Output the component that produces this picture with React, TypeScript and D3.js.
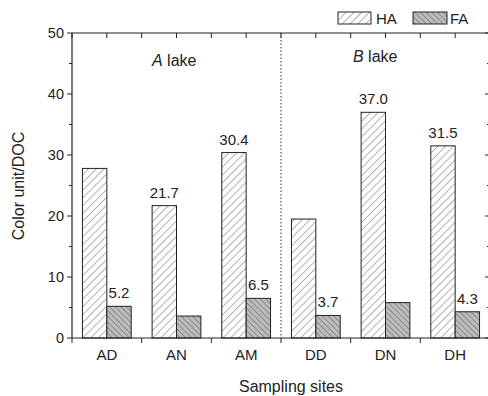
import React from "react";
import * as d3 from "d3";

const categories = ["AD", "AN", "AM", "DD", "DN", "DH"];
const haValues = [27.8, 21.7, 30.4, 19.5, 37.0, 31.5];
const faValues = [5.2, 3.6, 6.5, 3.7, 5.8, 4.3];
const haLabels = ["", "21.7", "30.4", "", "37.0", "31.5"];
const faLabels = ["5.2", "", "6.5", "3.7", "", "4.3"];
const yTicks = [0, 10, 20, 30, 40, 50];
const yMinorTicks = [5, 15, 25, 35, 45];

const W = 488, H = 396;
const left = 72, right = 490, top = 33, bottom = 338;
const font = "Liberation Sans, Arial, sans-serif";

export default function App() {
  const x = d3.scaleBand<string>().domain(categories).range([left, right]).paddingInner(0).paddingOuter(0);
  const y = d3.scaleLinear().domain([0, 50]).range([bottom, top]);
  const bw = x.bandwidth();
  const barW = bw * 0.35;
  const halfTicks = d3.range(0, categories.length * 2 + 1).map((i) => left + (i * bw) / 2);
  const boundaries = d3.range(0, categories.length + 1).map((i) => left + i * bw);
  const divider = x("DD")!;

  return (
    <svg width={W} height={H} style={{ position: "absolute", left: 0, top: 0, background: "#fff" }} fontFamily={font}>
      <defs>
        <pattern id="haPat" patternUnits="userSpaceOnUse" width={5.5} height={5.5} patternTransform="rotate(45)">
          <rect width={5.5} height={5.5} fill="#fff" />
          <line x1={0} y1={0} x2={0} y2={5.5} stroke="#555" strokeWidth={0.9} />
        </pattern>
        <pattern id="faPat" patternUnits="userSpaceOnUse" width={4} height={4} patternTransform="rotate(-45)">
          <rect width={4} height={4} fill="#bdbdbd" />
          <line x1={0} y1={0} x2={0} y2={4} stroke="#444" strokeWidth={0.9} />
        </pattern>
      </defs>

      {/* bars */}
      {categories.map((c, i) => {
        const cx = x(c)! + bw / 2;
        return (
          <g key={c}>
            <rect x={cx - barW} y={y(haValues[i])} width={barW} height={y(0) - y(haValues[i])} fill="url(#haPat)" stroke="#222" strokeWidth={1} />
            <rect x={cx} y={y(faValues[i])} width={barW} height={y(0) - y(faValues[i])} fill="url(#faPat)" stroke="#222" strokeWidth={1} />
            {haLabels[i] && (
              <text x={cx - barW / 2} y={y(haValues[i]) - 8} textAnchor="middle" fontSize={15} fill="#222">{haLabels[i]}</text>
            )}
            {faLabels[i] && (
              <text x={cx + barW / 2} y={y(faValues[i]) - 8} textAnchor="middle" fontSize={15} fill="#222">{faLabels[i]}</text>
            )}
            <text x={cx} y={bottom + 22} textAnchor="middle" fontSize={15} fill="#222">{c}</text>
          </g>
        );
      })}

      {/* divider */}
      <line x1={divider} x2={divider} y1={top} y2={bottom} stroke="#333" strokeWidth={1} strokeDasharray="1.5,2" />

      {/* frame */}
      <line x1={left} x2={right} y1={top} y2={top} stroke="#222" strokeWidth={1.2} />
      <line x1={left} x2={right} y1={bottom} y2={bottom} stroke="#222" strokeWidth={1.2} />
      <line x1={left} x2={left} y1={top} y2={bottom} stroke="#222" strokeWidth={1.2} />
      <line x1={right} x2={right} y1={top} y2={bottom} stroke="#222" strokeWidth={1.2} />

      {/* top ticks */}
      {halfTicks.map((t, i) => (
        <line key={"tt" + i} x1={t} x2={t} y1={top} y2={top + 5} stroke="#222" strokeWidth={1} />
      ))}
      {/* bottom ticks */}
      {boundaries.map((t, i) => (
        <line key={"bt" + i} x1={t} x2={t} y1={bottom} y2={bottom + 5} stroke="#222" strokeWidth={1} />
      ))}
      {/* y ticks */}
      {yTicks.map((v) => (
        <g key={"y" + v}>
          <line x1={left - 5} x2={left} y1={y(v)} y2={y(v)} stroke="#222" strokeWidth={1} />
          <line x1={right - 5} x2={right} y1={y(v)} y2={y(v)} stroke="#222" strokeWidth={1} />
          <text x={left - 8} y={y(v) + 5} textAnchor="end" fontSize={14.5} fill="#222">{v}</text>
        </g>
      ))}
      {yMinorTicks.map((v) => (
        <g key={"ym" + v}>
          <line x1={left - 3} x2={left} y1={y(v)} y2={y(v)} stroke="#222" strokeWidth={1} />
          <line x1={right - 3} x2={right} y1={y(v)} y2={y(v)} stroke="#222" strokeWidth={1} />
        </g>
      ))}

      {/* lake annotations */}
      <text x={152} y={66} fontSize={16} fill="#222"><tspan fontStyle="italic">A</tspan> lake</text>
      <text x={353} y={62} fontSize={16} fill="#222"><tspan fontStyle="italic">B</tspan> lake</text>

      {/* legend */}
      <rect x={338} y={12} width={33} height={12} fill="url(#haPat)" stroke="#222" strokeWidth={1} />
      <text x={376} y={24} fontSize={15} fill="#222">HA</text>
      <rect x={413} y={12} width={34} height={12} fill="url(#faPat)" stroke="#222" strokeWidth={1} />
      <text x={450} y={24} fontSize={15} fill="#222">FA</text>

      {/* axis titles */}
      <text x={291} y={392} textAnchor="middle" fontSize={16} fill="#222">Sampling sites</text>
      <text transform={`translate(24,186) rotate(-90)`} textAnchor="middle" fontSize={16} fill="#222">Color unit/DOC</text>
    </svg>
  );
}
